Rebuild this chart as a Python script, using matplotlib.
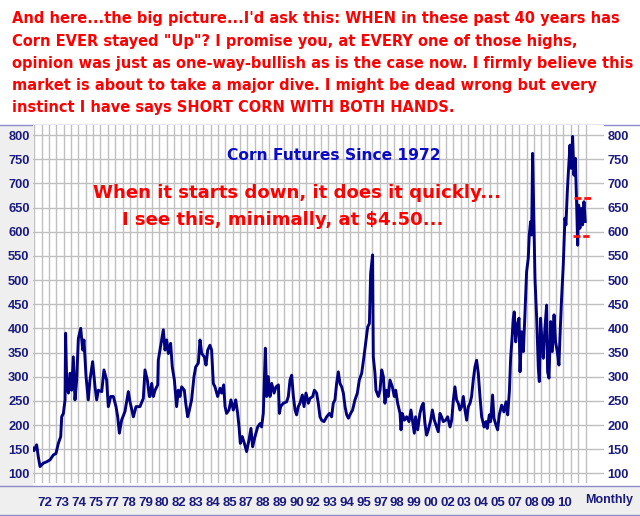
import numpy as np
import matplotlib.pyplot as plt
from matplotlib.lines import Line2D
from matplotlib.patches import Rectangle

# monthly corn futures, cents per bushel
years = [
    1972.00, 1972.14, 1972.33, 1972.45, 1972.57, 1972.81, 1973.05, 1973.29, 1973.52, 1973.71,
    1973.88, 1974.05, 1974.12, 1974.24, 1974.36, 1974.40, 1974.48, 1974.60, 1974.71, 1974.83,
    1974.95, 1975.07, 1975.19, 1975.31, 1975.48, 1975.62, 1975.71, 1975.86, 1976.02, 1976.14,
    1976.33, 1976.50, 1976.62, 1976.74, 1976.98, 1977.14, 1977.33, 1977.45, 1977.62, 1977.81,
    1978.00, 1978.12, 1978.24, 1978.40, 1978.64, 1978.88, 1979.00, 1979.24, 1979.43, 1979.71,
    1979.95, 1980.07, 1980.24, 1980.38,
    1980.43, 1980.55, 1980.67, 1980.79, 1980.98, 1981.02, 1981.14, 1981.26, 1981.38, 1981.50,
    1981.62, 1981.74, 1981.90, 1982.02, 1982.17, 1982.33, 1982.45, 1982.57, 1982.69, 1982.88,
    1982.98, 1983.12, 1983.24, 1983.40, 1983.57, 1983.69, 1983.88, 1984.00, 1984.12, 1984.31,
    1984.43, 1984.55, 1984.71, 1984.83, 1984.95, 1985.07, 1985.26, 1985.43, 1985.55, 1985.69,
    1985.79, 1985.90, 1986.07, 1986.21, 1986.38, 1986.55, 1986.69, 1986.79, 1986.88, 1987.02,
    1987.17, 1987.33, 1987.50, 1987.64, 1987.76, 1987.93, 1988.12, 1988.29, 1988.40, 1988.52,
    1988.67, 1988.76, 1988.88, 1989.00, 1989.12, 1989.29, 1989.43, 1989.60, 1989.67, 1989.76,
    1989.95, 1990.19, 1990.31, 1990.43, 1990.55, 1990.67, 1990.79, 1990.90, 1991.02, 1991.14,
    1991.31, 1991.43, 1991.57, 1991.74, 1991.86, 1992.05, 1992.17, 1992.33, 1992.45, 1992.57,
    1992.69, 1992.86, 1993.05, 1993.24, 1993.40, 1993.52, 1993.64, 1993.76, 1993.88, 1994.00,
    1994.12, 1994.24, 1994.36, 1994.48, 1994.60, 1994.76, 1994.90, 1995.07, 1995.24, 1995.38,
    1995.55, 1995.71, 1995.86, 1995.98, 1996.10, 1996.19, 1996.33, 1996.38, 1996.50,
    1996.57, 1996.74, 1996.86, 1996.98, 1997.10, 1997.21, 1997.33, 1997.45, 1997.57, 1997.74,
    1997.88, 1997.98, 1998.12, 1998.29, 1998.36, 1998.45, 1998.60, 1998.76, 1998.93, 1999.07,
    1999.19, 1999.31, 1999.40, 1999.55, 1999.71, 1999.83, 1999.95, 2000.07, 2000.19, 2000.31,
    2000.48, 2000.60, 2000.74, 2000.90, 2001.02, 2001.14, 2001.26, 2001.38, 2001.55, 2001.69,
    2001.86, 2001.98, 2002.10, 2002.21, 2002.33, 2002.45, 2002.57, 2002.69, 2002.81, 2002.93,
    2003.05, 2003.17, 2003.29, 2003.40, 2003.52, 2003.64, 2003.76, 2003.88, 2004.00, 2004.12,
    2004.24,
    2004.29, 2004.43, 2004.52, 2004.67, 2004.76, 2004.90, 2005.00, 2005.14, 2005.26, 2005.38,
    2005.55, 2005.71, 2005.86, 2005.98, 2006.10, 2006.19, 2006.29, 2006.38, 2006.45, 2006.55,
    2006.67, 2006.79, 2006.86, 2006.98, 2007.10, 2007.21, 2007.33, 2007.45, 2007.52, 2007.62,
    2007.69, 2007.76, 2007.86, 2007.93, 2008.05, 2008.17, 2008.24, 2008.33, 2008.43, 2008.52,
    2008.64, 2008.76, 2008.83, 2008.93, 2009.05, 2009.17, 2009.29, 2009.40, 2009.52, 2009.64,
    2009.71, 2009.83, 2009.95, 2010.07, 2010.14, 2010.24, 2010.33, 2010.43, 2010.52, 2010.62,
    2010.71, 2010.81, 2010.90, 2010.98, 2011.05, 2011.14, 2011.24, 2011.33, 2011.43, 2011.52,
]
price = [
    155, 147, 159, 134, 114, 121, 124, 128, 138, 141,
    162, 176, 217, 224, 252, 390, 286, 266, 307, 272,
    341, 252, 293, 379, 400, 355, 376, 300, 252, 293,
    331, 279, 252, 272, 269, 314, 293, 238, 259, 259,
    238, 217, 183, 210, 228, 269, 248, 217, 238, 238,
    255, 314, 293, 259,
    259, 286, 259, 272, 283, 334, 355, 376, 397, 355,
    376, 348, 369, 320, 293, 238, 272, 259, 279, 272,
    245, 217, 231, 252, 300, 320, 328, 376, 348, 341,
    324, 355, 365, 355, 286, 279, 259, 276, 266, 283,
    238, 224, 231, 252, 231, 252, 224, 196, 162, 176,
    162, 145, 169, 193, 155, 176, 196, 203, 196, 224,
    359, 259, 300, 259, 286, 266, 279, 283, 224, 238,
    245, 248, 259, 293, 303, 259, 231, 221, 238, 245,
    262, 238, 266, 245, 255, 259, 272, 266, 245, 217,
    210, 207, 217, 224, 217, 245, 252, 286, 310, 286,
    279, 266, 238, 221, 214, 224, 231, 252, 266, 293,
    307, 341, 376, 403, 410, 514, 552, 341, 307,
    272, 259, 272, 314, 300, 245, 272, 259, 293, 279,
    259, 272, 245, 224, 190, 224, 210, 217, 207, 231,
    207, 183, 217, 190, 224, 238, 245, 203, 179, 190,
    210, 231, 210, 196, 186, 224, 217, 207, 210, 217,
    196, 210, 252, 279, 252, 245, 231, 238, 259, 231,
    210, 238, 245, 259, 293, 320, 334, 307, 259, 217,
    203,
    196, 207, 193, 221, 207, 262, 214, 200, 190, 221,
    241, 227, 248, 221, 269, 338, 379, 421, 434, 372,
    407, 421, 310, 393, 352, 428, 517, 545, 593, 621,
    593, 762, 614, 503, 421, 317, 290, 421, 372, 338,
    400, 448, 310, 297, 414, 352, 428, 372, 352, 324,
    379, 462, 531, 628, 614, 683, 731, 779, 731, 797,
    717, 752, 662, 572, 655, 607, 648, 614, 662, 621,
]

year_labels = ['72', '73', '74', '75', '77', '78', '79', '80', '82', '83', '84',
               '85', '87', '88', '89', '90', '92', '93', '94', '95', '97', '98',
               '99', '00', '02', '03', '04', '05', '07', '08', '09', '10']
y_ticks = list(range(100, 801, 50))

# red target marks drawn at the right end
mark_levels = [670, 592]
mark_start = [2010.71, 2010.62]
mark_end = [2011.93, 2011.79]

top_text = [
    "And here...the big picture...I'd ask this: WHEN in these past 40 years has",
    "Corn EVER stayed \"Up\"? I promise you, at EVERY one of those highs,",
    "opinion was just as one-way-bullish as is the case now. I firmly believe this",
    "market is about to take a major dive. I might be dead wrong but every",
    "instinct I have says SHORT CORN WITH BOTH HANDS.",
]

W, H = 640, 516
navy = '#1a1a80'

fig = plt.figure(figsize=(6.4, 5.16), dpi=100)
fig.patch.set_facecolor('white')

# grey side panel and bottom strip (behind the axes)
fig.patches.append(Rectangle((0, 1 - 486 / H), 33 / W, 361 / H, transform=fig.transFigure,
                             facecolor='#efefef', edgecolor='none', zorder=-5))
fig.patches.append(Rectangle((0, 1 - 515 / H), 1, 29 / H, transform=fig.transFigure,
                             facecolor='#efefef', edgecolor='none', zorder=-5))
for yp in [125, 486, 515]:
    fig.add_artist(Line2D([0, 1], [1 - yp / H, 1 - yp / H], transform=fig.transFigure,
                          color='#8c8cc8', lw=1, zorder=-4))

ax = fig.add_axes([33 / W, 1 - 483 / H, 571 / W, 358 / H])
ax.set_facecolor('white')
ax.set_xlim(1972.07, 2012.86)
ax.set_ylim(80, 820.7)

# grid: horizontal every 50, vertical about every half year
ax.set_yticks(y_ticks)
ax.set_yticklabels([str(v) for v in y_ticks])
vgrid = 1972.164 + 0.525 * np.arange(76)
ax.set_xticks(vgrid, minor=True)
ax.set_xticks(1972.93 + 1.198 * np.arange(len(year_labels)))
ax.set_xticklabels(year_labels)
ax.grid(False)
ax.yaxis.grid(True, color='#c0c0c0', lw=1)
ax.xaxis.grid(True, which='minor', color='#c0c0c0', lw=1)
ax.set_axisbelow(True)
for s in ax.spines.values():
    s.set_visible(False)

ax.tick_params(axis='y', length=0, labelleft=True, labelright=True, pad=2.5,
               labelsize=9.3, labelcolor=navy)
ax.tick_params(axis='x', which='both', length=0, pad=10, labelsize=9.5, labelcolor=navy)
for t in ax.xaxis.get_major_ticks() + ax.yaxis.get_major_ticks():
    for lab in (t.label1, t.label2):
        lab.set_fontfamily('Liberation Sans')
        lab.set_fontweight('bold')

ax.plot(years, price, color='#000080', lw=2.1)
ax.hlines(mark_levels, mark_start, mark_end, colors='#ff1010', lw=2,
          linestyles=(0, (2.5, 1)), clip_on=False)

# top paragraph
for i, line in enumerate(top_text):
    fig.text(12 / W, 1 - (23.5 + 22.1 * i) / H, line, color='#ff0000', fontsize=10.5,
             fontweight='bold', family='DejaVu Sans', va='baseline', ha='left')

fig.text(334 / W, 1 - 160.5 / H, 'Corn Futures Since 1972', color='#0a0ac8',
         fontsize=11.2, fontweight='bold', family='DejaVu Sans', va='baseline', ha='center')
fig.text(296.5 / W, 1 - 198.3 / H, 'When it starts down, it does it quickly...',
         color='#ff0000', fontsize=13.1, fontweight='bold', family='DejaVu Sans',
         va='baseline', ha='center')
fig.text(282.5 / W, 1 - 225 / H, 'I see this, minimally, at $4.50...',
         color='#ff0000', fontsize=13.1, fontweight='bold', family='DejaVu Sans',
         va='baseline', ha='center')
fig.text(609 / W, 1 - 500 / H, 'Monthly', color=navy, fontsize=9, fontweight='bold',
         family='Liberation Sans', va='center', ha='center')

fig.savefig('out.png', dpi=100)
